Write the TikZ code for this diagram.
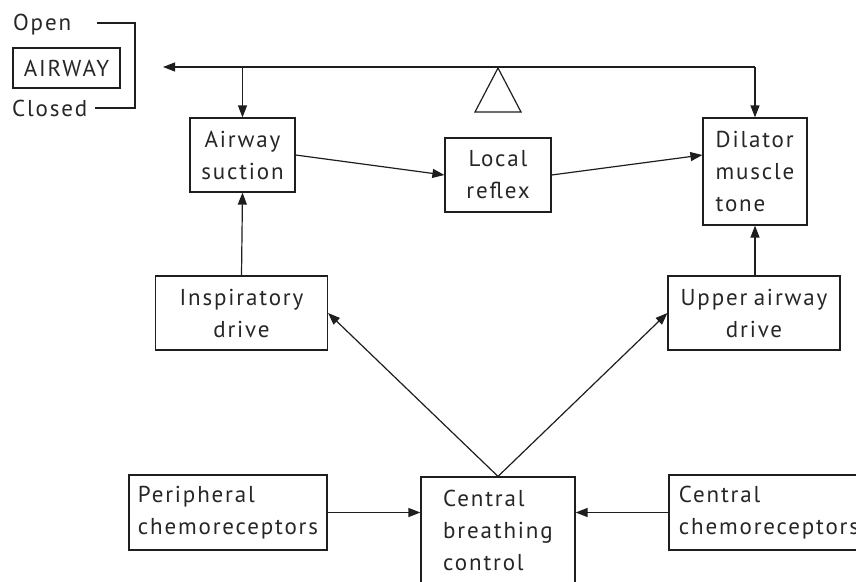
\documentclass[tikz,border=0pt]{standalone}
\usepackage{fontspec}
\setmainfont{PT Sans}[LetterSpace=8, WordSpace=0.8]
\usetikzlibrary{arrows.meta,calc}
\definecolor{ink}{HTML}{1E1E1E}
\definecolor{txt}{HTML}{262626}
\begin{document}
\begin{tikzpicture}[x=1pt,y=-1pt,
  every node/.style={font=\fontsize{23}{32}\selectfont, text=txt},
  box/.style={draw=ink, line width=1.2pt, inner sep=0pt, minimum height=74pt},
  lbl/.style={inner sep=0pt},
  conn/.style={draw=ink, line width=1.2pt},
  arr/.style={conn, -{Triangle[length=12pt,width=9pt]}}]
\useasboundingbox (0,0) rectangle (856,581);
\clip (0,0) rectangle (856,581);
% left labels
\node[lbl, anchor=west] (open) at (13,25) {Open};
\node[box, minimum width=107pt, minimum height=40pt] (airway) at (66.5,68) {AIRWAY};
\node[lbl, anchor=west] (closed) at (12,108) {Closed};
\coordinate (bo) at (97,23);
\coordinate (bc) at (95,108);
\draw[conn] (bo) -- (135,23) -- (135,108) -- (bc);
% boxes
\node[box, minimum width=105pt, align=center] (suction) at (242.5,155) {Airway\\suction};
\node[box, minimum width=106pt, align=center] (reflex) at (498,175) {Local\\reflex};
\node[box, minimum width=104pt, minimum height=107pt, align=left] (dilator) at (755,171.5) {Dilator\\muscle\\tone};
\node[box, minimum width=172pt, align=center] (insp) at (241.5,313) {Inspiratory\\drive};
\node[box, minimum width=172pt, align=center] (upper) at (754,313) {Upper airway\\drive};
\node[box, minimum width=198pt, minimum height=75pt, align=left] (periph) at (228,512.5) {Peripheral\\chemoreceptors};
\node[box, minimum width=154pt, minimum height=106pt, align=left] (central) at (498,530) {Central\\breathing\\control};
\node[box, minimum width=200pt, minimum height=75pt, align=left] (cchemo) at (769,512.5) {Central\\chemoreceptors};
% top feedback line
\coordinate (tl) at (163,67);
\coordinate (tr) at (dilator.north |- tl);
\coordinate (ts) at (suction.north |- tl);
\draw[arr] (tr) -- (tl);
\draw[arr] (tr) -- (dilator.north);
\draw[arr] (ts) -- (suction.north);
\draw[conn] (498,68) -- (475,112) -- (521,112) -- cycle;
% connectors
\draw[arr] (suction.east) -- (reflex.west);
\draw[arr] (reflex.east) -- (dilator.west |- suction.east);
\draw[arr] (insp.north) -- (suction.south);
\draw[arr] (dilator.south |- upper.north) -- (dilator.south);
\draw[arr] (central.north) -- (insp.east);
\draw[arr] (central.north) -- (upper.west);
\draw[arr] (periph.east) -- (periph.east -| central.west);
\draw[arr] (cchemo.west) -- (cchemo.west -| central.east);
\end{tikzpicture}
\end{document}
